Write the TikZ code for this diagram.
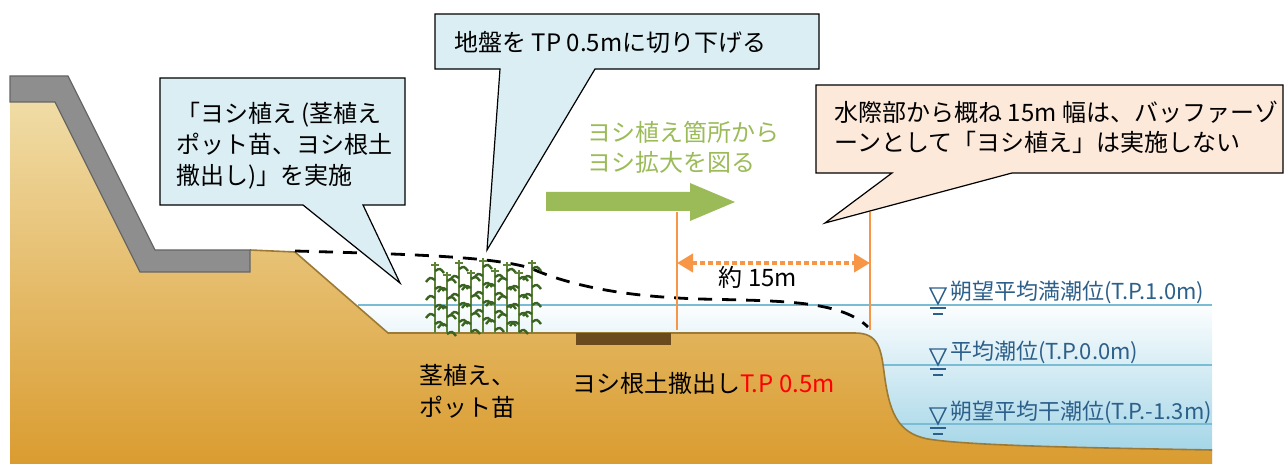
\documentclass[tikz,border=0pt]{standalone}
\usepackage{fontspec}
\setmainfont{Noto Sans CJK JP}
\usetikzlibrary{arrows.meta}

\definecolor{soiltop}{HTML}{F0DCA6}
\definecolor{soilbot}{HTML}{DA9C30}
\definecolor{soilline}{HTML}{9C7A35}
\definecolor{wallgray}{HTML}{8E8E8E}
\definecolor{waterdeep}{HTML}{9CD2E5}
\definecolor{watermid}{HTML}{E6F4F8}
\definecolor{tideline}{HTML}{7BBCD5}
\definecolor{tidetext}{HTML}{2C5F8A}
\definecolor{balloonblue}{HTML}{DAEEF3}
\definecolor{balloonpeach}{HTML}{FDE9D9}
\definecolor{reedgreen}{HTML}{9BBB59}
\definecolor{leafgreen}{HTML}{3A6322}
\definecolor{stemgreen}{HTML}{5E8238}
\definecolor{rootbrown}{HTML}{6B4A1E}
\definecolor{bufferorange}{HTML}{F79646}

\begin{document}
\begin{tikzpicture}[x=0.5pt, y=-0.5pt, font=\fontsize{12}{15.5}\selectfont,
    balloon/.style={draw=black, line width=0.6pt, line join=miter},
    lbl/.style={inner sep=0pt, align=left},
    tidelbl/.style={lbl, text=tidetext, font=\fontsize{11}{13}\selectfont},
    reedstem/.style={stemgreen, line width=0.9pt},
    reedleaf/.style={leafgreen, line width=1.2pt},
    bufferline/.style={bufferorange, line width=1pt},
    tidemark/.pic={
      \draw[tidetext, line width=0.7pt] (-8,-16) -- (8,-16) -- (0,0) -- cycle;
      \draw[tidetext, line width=0.9pt] (-8,4) -- (8,4) (-5,10) -- (5,10);
    }]
\useasboundingbox (0,0) rectangle (1285,464);

% water body
\shade[top color=white, middle color=watermid, bottom color=waterdeep]
  (358,300) rectangle (1212,464);
\draw[tideline, line width=1pt] (358,305) -- (1212,305);
\draw[tideline, line width=1pt] (880,365) -- (1212,365);
\draw[tideline, line width=1pt] (890,424) -- (1212,424);

% ground
\shade[top color=soiltop, bottom color=soilbot]
  (10,102) -- (55,102) -- (140,272) -- (250,272) -- (250,250) -- (295,252)
  -- (388,333) -- (855,333) .. controls (878,333) and (881,348) .. (884,372)
  .. controls (889,410) and (896,433) .. (928,439)
  .. controls (970,446) and (1100,448) .. (1212,450) -- (1212,464) -- (10,464) -- cycle;
\draw[soilline, line width=0.8pt] (250,250) -- (295,252) -- (388,333) -- (855,333)
  .. controls (878,333) and (881,348) .. (884,372)
  .. controls (889,410) and (896,433) .. (928,439)
  .. controls (970,446) and (1100,448) .. (1212,450);

% sea wall
\draw[fill=wallgray, draw=gray!80!black, line width=0.6pt]
  (10,76) -- (68,76) -- (155,250) -- (250,250) -- (250,272) -- (140,272)
  -- (55,102) -- (10,102) -- cycle;

% root soil
\fill[rootbrown] (576,333) rectangle (671,345);

% original ground level
\draw[line width=1.4pt, dash pattern=on 7pt off 5pt]
  (295,251) .. controls (400,254) and (490,256) .. (530,268)
  .. controls (580,290) and (640,297) .. (700,299)
  .. controls (780,301) and (840,300) .. (868,327);

% reeds
\foreach \x/\t in {435/262,447/272,459/260,471/270,483/258,495/268,507/262,519/270,532/260} {
  \draw[reedstem] (\x,333) -- (\x,\t);
  \draw[reedstem] (\x-4,\t+3) -- (\x+4,\t+3);
  \foreach \h/\side in {9/1,18/-1,27/1,36/-1,45/1,54/-1,62/1} {
    \draw[reedleaf] (\x,\t+\h) .. controls (\x+\side*5,\t+\h-3) .. (\x+\side*9,\t+\h+2);
  }
}

% buffer zone
\coordinate (edgeltop) at (677,212);
\coordinate (edgelbot) at (677,330);
\coordinate (edgertop) at (870,212);
\coordinate (edgerbot) at (870,330);
\draw[bufferline] (edgeltop) -- (edgelbot);
\draw[bufferline] (edgertop) -- (edgerbot);
\coordinate (diml) at (677,263);
\coordinate (dimr) at (870,263);
\draw[bufferorange, line width=2pt, dash pattern=on 2.5pt off 1.5pt,
  {Triangle[length=8pt,width=9pt]}-{Triangle[length=8pt,width=9pt]}] (diml) -- (dimr);
\node[lbl] (widthlbl) at (758,277) {約 15m};

% spreading arrow
\fill[reedgreen] (546,192) -- (690,192) -- (690,183) -- (735,202) -- (690,221)
  -- (690,211) -- (546,211) -- cycle;
\node[lbl, text=reedgreen, font=\fontsize{12}{15}\selectfont, anchor=west] (spreadlbl)
  at (587,147) {ヨシ植え箇所から\\ヨシ拡大を図る};

% callouts
\draw[balloon, fill=balloonblue] (160,78) -- (405,78) -- (405,205) -- (363,205)
  -- (400,283) -- (303,205) -- (160,205) -- cycle;
\node[lbl, anchor=west] (planttext) at (176,146)
  {「ヨシ植え (茎植え\\ポット苗、ヨシ根土\\撒出し)」を実施};

\draw[balloon, fill=balloonblue] (435,14) -- (819,14) -- (819,69) -- (595,69)
  -- (487,250) -- (500,69) -- (435,69) -- cycle;
\node[lbl, anchor=west] (cuttext) at (454,42) {地盤を TP 0.5mに切り下げる};

\draw[balloon, fill=balloonpeach] (816,85) -- (1283,85) -- (1283,173) -- (1012,173)
  -- (825,223) -- (892,173) -- (816,173) -- cycle;
\node[lbl, anchor=west, font=\fontsize{12}{15}\selectfont] (buffertext) at (834,127)
  {水際部から概ね 15m 幅は、バッファーゾ\\ーンとして「ヨシ植え」は実施しない};

% labels on the ground
\node[lbl, anchor=west, font=\fontsize{12}{16}\selectfont] (stemlbl) at (419,391)
  {茎植え、\\ポット苗};
\node[lbl, anchor=west] (rootlbl) at (572,383) {ヨシ根土撒出し\textcolor{red}{T.P 0.5m}};

% tide levels
\pic at (938,304) {tidemark};
\pic at (938,365) {tidemark};
\pic at (938,424) {tidemark};
\node[tidelbl, anchor=west] (hwl) at (950,292) {朔望平均満潮位(T.P.1.0m)};
\node[tidelbl, anchor=west] (mwl) at (950,352) {平均潮位(T.P.0.0m)};
\node[tidelbl, anchor=west] (lwl) at (950,412) {朔望平均干潮位(T.P.-1.3m)};
\end{tikzpicture}
\end{document}
